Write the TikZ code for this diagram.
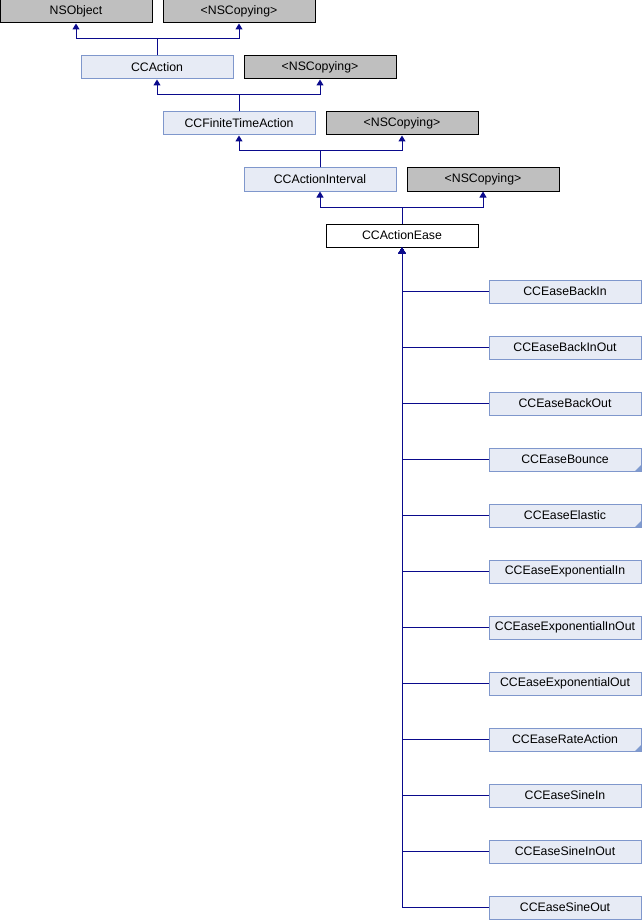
\documentclass[tikz,border=0pt]{standalone}
\usepackage{fontspec}
\setmainfont{Liberation Sans}
\usetikzlibrary{arrows.meta}
\definecolor{edgeblue}{HTML}{0A0A8C}
\definecolor{boxgray}{HTML}{BFBFBF}
\definecolor{classfill}{HTML}{E7EBF5}
\definecolor{classline}{HTML}{7F97CC}
\definecolor{moremark}{HTML}{7F9BD0}
\tikzset{
  box/.style={rectangle, minimum width=152pt, minimum height=23pt, inner sep=0pt,
    line width=1pt, font=\fontsize{12.3}{14}\selectfont},
  graybox/.style={box, draw=black, fill=boxgray},
  classbox/.style={box, draw=classline, fill=classfill},
  mainbox/.style={box, draw=black, fill=white},
  inh/.style={draw=edgeblue, line width=1pt, -{Triangle[width=7pt,length=6pt]}},
  more/.style={fill=moremark}
}
\begin{document}
\begin{tikzpicture}[x=1pt,y=-1pt]
\useasboundingbox (0,0) rectangle (642,920);

% inheritance chain
\node[graybox]  (nsobject) at (76,11.5)   {NSObject};
\node[graybox]  (copy1)    at (239,11.5)  {<NSCopying>};
\node[classbox] (action)   at (157,67.5)  {CCAction};
\node[graybox]  (copy2)    at (320,67.5)  {<NSCopying>};
\node[classbox] (finite)   at (239,123.5) {CCFiniteTimeAction};
\node[graybox]  (copy3)    at (402,123.5) {<NSCopying>};
\node[classbox] (interval) at (320,179.5) {CCActionInterval};
\node[graybox]  (copy4)    at (483,179.5) {<NSCopying>};
\node[mainbox]  (ease)     at (402,235.5) {CCActionEase};

\draw[inh] (action.north) -- ++(0,-16.5) -| (nsobject.south);
\draw[inh] (action.north) -- ++(0,-16.5) -| (copy1.south);
\draw[inh] (finite.north) -- ++(0,-16.5) -| (action.south);
\draw[inh] (finite.north) -- ++(0,-16.5) -| (copy2.south);
\draw[inh] (interval.north) -- ++(0,-16.5) -| (finite.south);
\draw[inh] (interval.north) -- ++(0,-16.5) -| (copy3.south);
\draw[inh] (ease.north) -- ++(0,-16.5) -| (interval.south);
\draw[inh] (ease.north) -- ++(0,-16.5) -| (copy4.south);

% subclasses of CCActionEase
\foreach \name/\label [count=\i from 0] in {
  backin/CCEaseBackIn, backinout/CCEaseBackInOut, backout/CCEaseBackOut,
  bounce/CCEaseBounce, elastic/CCEaseElastic, expin/CCEaseExponentialIn,
  expinout/CCEaseExponentialInOut, expout/CCEaseExponentialOut,
  rate/CCEaseRateAction, sinein/CCEaseSineIn, sineinout/CCEaseSineInOut,
  sineout/CCEaseSineOut} {
  \node[classbox] (\name) at (565,{291.5+56*\i}) {\label};
  \draw[inh] (\name.west) -| (ease.south);
}

% markers for classes with further subclasses
\foreach \name in {bounce, elastic, rate} {
  \fill[more] ([xshift=-0.5pt,yshift=0.5pt]\name.south east) -- ++(-6,0) -- ++(6,-6) -- cycle;
}
\end{tikzpicture}
\end{document}
